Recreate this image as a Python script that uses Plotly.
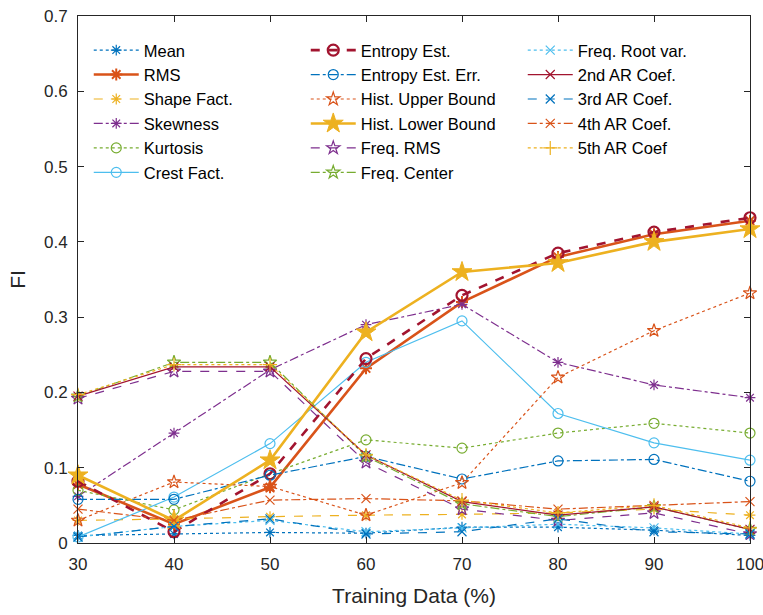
import plotly.graph_objects as go

# Training-set size (%) on the x axis
training_pct = [30, 40, 50, 60, 70, 80, 90, 100]

# Feature importance (FI) per feature
mean_fi        = [0.010, 0.012, 0.014, 0.013, 0.021, 0.021, 0.017, 0.010]
rms_fi         = [0.078, 0.025, 0.074, 0.232, 0.320, 0.380, 0.410, 0.428]
shape_fi       = [0.030, 0.032, 0.035, 0.037, 0.038, 0.040, 0.045, 0.037]
skew_fi        = [0.062, 0.146, 0.230, 0.290, 0.317, 0.240, 0.210, 0.193]
kurt_fi        = [0.070, 0.044, 0.092, 0.137, 0.126, 0.146, 0.159, 0.146]
crest_fi       = [0.008, 0.061, 0.132, 0.240, 0.295, 0.172, 0.133, 0.110]
entropy_fi     = [0.082, 0.015, 0.092, 0.245, 0.329, 0.385, 0.413, 0.432]
entropy_err_fi = [0.058, 0.058, 0.090, 0.115, 0.085, 0.109, 0.111, 0.082]
hist_ub_fi     = [0.030, 0.081, 0.075, 0.037, 0.080, 0.220, 0.282, 0.332]
hist_lb_fi     = [0.090, 0.030, 0.110, 0.280, 0.360, 0.372, 0.400, 0.417]
freq_rms_fi    = [0.192, 0.228, 0.228, 0.107, 0.045, 0.030, 0.040, 0.012]
freq_center_fi = [0.195, 0.240, 0.240, 0.115, 0.052, 0.035, 0.048, 0.018]
freq_rvar_fi   = [0.008, 0.022, 0.030, 0.015, 0.020, 0.025, 0.020, 0.012]
ar2_fi         = [0.195, 0.234, 0.234, 0.117, 0.055, 0.037, 0.048, 0.018]
ar3_fi         = [0.008, 0.022, 0.032, 0.012, 0.015, 0.032, 0.015, 0.012]
ar4_fi         = [0.045, 0.030, 0.057, 0.059, 0.056, 0.045, 0.050, 0.055]
ar5_fi         = [0.197, 0.237, 0.237, 0.117, 0.057, 0.040, 0.050, 0.020]

x_ticks = [30, 40, 50, 60, 70, 80, 90, 100]
y_ticks = [0, 0.1, 0.2, 0.3, 0.4, 0.5, 0.6, 0.7]
y_tick_text = ["0", "0.1", "0.2", "0.3", "0.4", "0.5", "0.6", "0.7"]

BLUE, ORANGE, YELLOW = "#0072BD", "#D95319", "#EDB120"
PURPLE, GREEN, LBLUE, DRED = "#7E2F8E", "#77AC30", "#4DBEEE", "#A2142F"

# name, values, color, dash, symbol, line width, marker size, marker line width, legend rank
# (legend ranks lay the three-column legend out row by row)
series = [
    ("Mean",              mean_fi,        BLUE,   "dot",     "asterisk-open",   1.2, 9,  1.2, 1),
    ("RMS",               rms_fi,         ORANGE, "solid",   "asterisk-open",   2.6, 10, 2.0, 4),
    ("Shape Fact.",       shape_fi,       YELLOW, "dash",    "asterisk-open",   1.2, 9,  1.2, 7),
    ("Skewness",          skew_fi,        PURPLE, "dashdot", "asterisk-open",   1.2, 9,  1.2, 10),
    ("Kurtosis",          kurt_fi,        GREEN,  "dot",     "circle-open",     1.2, 10, 1.2, 13),
    ("Crest Fact.",       crest_fi,       LBLUE,  "solid",   "circle-open",     1.2, 10, 1.2, 16),
    ("Entropy Est.",      entropy_fi,     DRED,   "dash",    "circle-open",     2.6, 11, 2.2, 2),
    ("Entropy Est. Err.", entropy_err_fi, BLUE,   "dashdot", "circle-open",     1.2, 10, 1.2, 5),
    ("Hist. Upper Bound", hist_ub_fi,     ORANGE, "dot",     "star-open",       1.2, 10, 1.2, 8),
    ("Hist. Lower Bound", hist_lb_fi,     YELLOW, "solid",   "star",            2.6, 15, 1.0, 11),
    ("Freq. RMS",         freq_rms_fi,    PURPLE, "dash",    "star-open",       1.2, 10, 1.2, 14),
    ("Freq. Center",      freq_center_fi, GREEN,  "dashdot", "star-open",       1.2, 10, 1.2, 17),
    ("Freq. Root var.",   freq_rvar_fi,   LBLUE,  "dot",     "x-thin-open",     1.2, 9,  1.2, 3),
    ("2nd AR Coef.",      ar2_fi,         DRED,   "solid",   "x-thin-open",     1.2, 9,  1.2, 6),
    ("3rd AR Coef.",      ar3_fi,         BLUE,   "dash",    "x-thin-open",     1.2, 9,  1.2, 9),
    ("4th AR Coef.",      ar4_fi,         ORANGE, "dashdot", "x-thin-open",     1.2, 9,  1.2, 12),
    ("5th AR Coef",       ar5_fi,         YELLOW, "dot",     "cross-thin-open", 1.2, 10, 1.2, 15),
]

fig = go.Figure()
for name, vals, color, dash, symbol, lw, msize, mlw, rank in series:
    fig.add_trace(go.Scatter(
        x=training_pct, y=vals, name=name, mode="lines+markers",
        line=dict(color=color, width=lw, dash=dash),
        marker=dict(symbol=symbol, size=msize, color=color,
                    line=dict(color=color, width=mlw)),
        legendrank=rank, cliponaxis=False,
    ))

FONT = "Liberation Sans, Arial, sans-serif"
AX = "#262626"

fig.update_layout(
    width=763, height=615,
    margin=dict(l=78, r=13, t=16, b=72),
    paper_bgcolor="white", plot_bgcolor="white",
    font=dict(family=FONT, size=17, color=AX),
    showlegend=True,
    legend=dict(
        orientation="h", x=0.016, y=0.968, xanchor="left", yanchor="top",
        entrywidth=157, entrywidthmode="pixels",
        itemwidth=45, bgcolor="rgba(255,255,255,0)",
        font=dict(family=FONT, size=16.5, color="#000000"),
        traceorder="normal",
    ),
    xaxis=dict(
        range=[30, 100], tickvals=x_ticks, ticks="inside", ticklen=6,
        showline=True, mirror="ticks", linecolor=AX, linewidth=1, tickcolor=AX,
        showgrid=False, zeroline=False, ticklabeloverflow="allow",
        ticklabelstandoff=6, automargin=False,
        title=dict(text="Training Data (%)", font=dict(size=21), standoff=14),
        tickfont=dict(size=17),
    ),
    yaxis=dict(
        range=[0, 0.7], tickvals=y_ticks, ticktext=y_tick_text, ticks="inside", ticklen=6,
        showline=True, mirror="ticks", linecolor=AX, linewidth=1, tickcolor=AX,
        showgrid=False, zeroline=False, ticklabelstandoff=6, automargin=False,
        title=dict(text="FI", font=dict(size=21), standoff=12),
        tickfont=dict(size=17),
    ),
)

fig.write_html("out.html")
